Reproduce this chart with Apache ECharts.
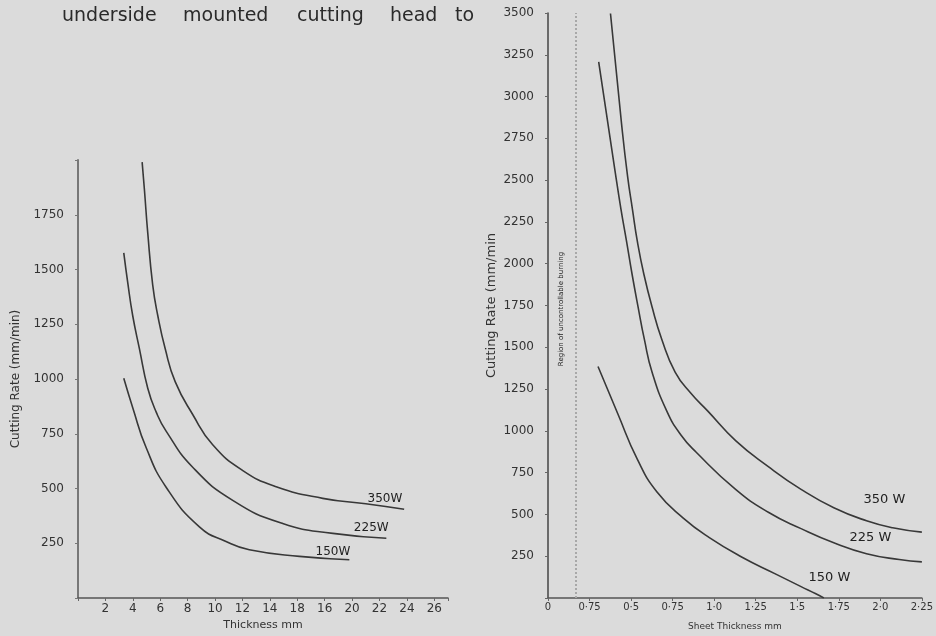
<!DOCTYPE html>
<html lang="en">
<head>
<meta charset="UTF-8">
<script src="https://cdn.jsdelivr.net/npm/echarts@6/dist/echarts.min.js"></script>
<style>
  html, body { margin: 0; padding: 0; background: #dbdbdb; }
</style>
</head>
<body>
<div id="main" style="width: 936px; height: 636px;"></div>
<script type="text/javascript">
    // left chart: thickness (mm) vs cutting rate (mm/min)
    var xTicksL = [2, 4, 6, 8, 10, 12, 14, 16, 18, 20, 22, 24, 26];
    var xLabelsL = ['2', '4', '6', '8', '10', '12', '14', '18', '16', '20', '22', '24', '26'];
    var yTicksL = [250, 500, 750, 1000, 1250, 1500, 1750];

    var thkL350 = [4.68, 4.85, 5.09, 5.45, 5.82, 6.36, 7.09, 8.37, 9.83, 12.0, 14.46, 17.86, 21.0, 23.8];
    var rateL350 = [1990, 1862, 1667, 1430, 1290, 1139, 988, 838, 700, 583, 508, 455, 430, 405];
    var thkL225 = [3.34, 3.63, 3.99, 4.48, 5.09, 5.7, 6.43, 8.37, 11.29, 14.94, 18.6, 22.5];
    var rateL225 = [1576, 1440, 1290, 1139, 958, 850, 762, 597, 446, 340, 295, 273];
    var thkL150 = [3.34, 4.0, 4.97, 6.43, 8.86, 10.8, 12.5, 16.16, 19.8];
    var rateL150 = [1003, 868, 687, 506, 325, 258, 220, 190, 175];

    // right chart: sheet thickness (mm) vs cutting rate (mm/min)
    var xTicksR = [0, 0.25, 0.5, 0.75, 1.0, 1.25, 1.5, 1.75, 2.0, 2.25];
    var xLabelsR = ['0', '0·75', '0·5', '0·75', '1·0', '1·25', '1·5', '1·75', '2·0', '2·25'];
    var yTicksR = [250, 500, 750, 1000, 1250, 1500, 1750, 2000, 2250, 2500, 2750, 3000, 3250, 3500];

    var thkR350 = [0.376, 0.443, 0.479, 0.508, 0.538, 0.577, 0.626, 0.685, 0.765, 0.86, 0.962, 1.129, 1.326, 1.523, 1.72, 1.917, 2.074, 2.25];
    var rateR350 = [3497, 2834, 2522, 2327, 2132, 1937, 1742, 1547, 1352, 1225, 1118, 942, 786, 650, 540, 462, 420, 394];
    var thkR225 = [0.305, 0.404, 0.439, 0.473, 0.506, 0.542, 0.580, 0.626, 0.715, 0.80, 0.892, 1.129, 1.326, 1.523, 1.72, 1.917, 2.114, 2.25];
    var rateR225 = [3208, 2551, 2327, 2132, 1937, 1742, 1547, 1352, 1118, 975, 872, 650, 513, 415, 330, 265, 230, 216];
    var thkR150 = [0.301, 0.42, 0.538, 0.656, 0.814, 0.971, 1.168, 1.365, 1.523, 1.612, 1.66];
    var rateR150 = [1385, 1102, 829, 634, 478, 361, 244, 146, 68, 25, 0];

    var burnLimit = 0.165;

    function pairs(xs, ys) {
        return xs.map(function (x, i) { return [x, ys[i]]; });
    }
    function tagAt(x, y, txt, size) {
        return {
            symbol: 'circle', symbolSize: 0, silent: true,
            data: [{ coord: [x, y] }],
            label: { show: true, position: 'inside', formatter: txt, color: '#222', fontSize: size, fontFamily: 'DejaVu Sans' }
        };
    }
    function curve(name, xi, xs, ys, tag) {
        return {
            name: name, type: 'line', xAxisIndex: xi, yAxisIndex: xi,
            smooth: 0.5, symbol: 'none',
            lineStyle: { color: lineCol, width: 1.6 },
            data: pairs(xs, ys), markPoint: tag
        };
    }

    var lineCol = '#383838';
    var txtCol = '#333';
    var chart = echarts.init(document.getElementById('main'));

    var r150 = curve('R150', 1, thkR150, rateR150, tagAt(1.694, 123, '150 W', 13));
    r150.markLine = {
        silent: true, symbol: 'none', label: { show: false },
        lineStyle: { type: 'dotted', color: '#a8a8a8', width: 2 },
        data: [{ xAxis: burnLimit }]
    };

    var option = {
        backgroundColor: '#dbdbdb',
        animation: false,
        textStyle: { fontFamily: 'DejaVu Sans' },
        grid: [
            { left: 78, top: 160, width: 370, height: 442 },
            { left: 548, top: 13, width: 381, height: 598 }
        ],
        xAxis: [{
            gridIndex: 0, type: 'value', min: 0, max: 27, interval: 2,
            axisLine: { lineStyle: { color: '#555', width: 1.5 } },
            axisTick: { length: 3, lineStyle: { color: '#666' } },
            splitLine: { show: false },
            axisLabel: {
                color: txtCol, fontSize: 12, margin: 5,
                formatter: function (v) { var i = xTicksL.indexOf(v); return i >= 0 ? xLabelsL[i] : ''; }
            },
            name: 'Thickness mm', nameLocation: 'middle', nameGap: 22,
            nameTextStyle: { color: txtCol, fontSize: 11 }
        }, {
            gridIndex: 1, type: 'value', min: 0, max: 2.25, interval: 0.25,
            axisLine: { lineStyle: { color: '#555', width: 1.5 } },
            axisTick: { length: 3, lineStyle: { color: '#666' } },
            splitLine: { show: false },
            axisLabel: {
                color: txtCol, fontSize: 10, margin: 4,
                formatter: function (v) {
                    for (var i = 0; i < xTicksR.length; i++) {
                        if (Math.abs(xTicksR[i] - v) < 1e-6) return xLabelsR[i];
                    }
                    return '';
                }
            },
            name: 'Sheet Thickness mm', nameLocation: 'middle', nameGap: 24,
            nameTextStyle: { color: txtCol, fontSize: 9 }
        }],
        yAxis: [{
            gridIndex: 0, type: 'value', min: 0, max: 2000, interval: 250,
            axisLine: { show: true, lineStyle: { color: '#777', width: 2 } },
            axisTick: { show: true, length: 3, lineStyle: { color: '#777' } },
            splitLine: { show: false },
            axisLabel: {
                color: txtCol, fontSize: 12, margin: 14,
                formatter: function (v) { return yTicksL.indexOf(v) >= 0 ? String(v) : ''; }
            },
            name: 'Cutting Rate (mm/min)', nameLocation: 'middle', nameGap: 56,
            nameTextStyle: { color: txtCol, fontSize: 12 }
        }, {
            gridIndex: 1, type: 'value', min: 0, max: 3500, interval: 250,
            axisLine: { show: true, lineStyle: { color: '#444', width: 1.5 } },
            axisTick: { show: true, length: 3, lineStyle: { color: '#666' } },
            splitLine: { show: false },
            axisLabel: {
                color: txtCol, fontSize: 12, margin: 14,
                formatter: function (v) { return yTicksR.indexOf(v) >= 0 ? String(v) : ''; }
            },
            name: 'Cutting Rate (mm/min', nameLocation: 'middle', nameGap: 50,
            nameTextStyle: { color: txtCol, fontSize: 13 }
        }],
        series: [
            curve('L350', 0, thkL350, rateL350, tagAt(22.4, 453, '350W', 12)),
            curve('L225', 0, thkL225, rateL225, tagAt(21.4, 318, '225W', 12)),
            curve('L150', 0, thkL150, rateL150, tagAt(18.6, 212, '150W', 12)),
            curve('R350', 1, thkR350, rateR350, tagAt(2.025, 591, '350 W', 13)),
            curve('R225', 1, thkR225, rateR225, tagAt(1.94, 363, '225 W', 13)),
            r150
        ],
        graphic: [
            { type: 'text', left: 62, top: 7, style: { text: 'underside', font: '19px "DejaVu Sans"', fill: '#2a2a2a' } },
            { type: 'text', left: 183, top: 7, style: { text: 'mounted', font: '19px "DejaVu Sans"', fill: '#2a2a2a' } },
            { type: 'text', left: 297, top: 7, style: { text: 'cutting', font: '19px "DejaVu Sans"', fill: '#2a2a2a' } },
            { type: 'text', left: 390, top: 7, style: { text: 'head', font: '19px "DejaVu Sans"', fill: '#2a2a2a' } },
            { type: 'text', left: 455, top: 7, style: { text: 'to', font: '19px "DejaVu Sans"', fill: '#2a2a2a' } },
            {
                type: 'text', x: 561, y: 309, rotation: Math.PI / 2,
                style: {
                    text: 'Region of uncontrollable burning', font: '7px "DejaVu Sans"', fill: '#222',
                    align: 'center', verticalAlign: 'middle'
                }
            }
        ]
    };

    chart.setOption(option);
</script>
</body>
</html>
